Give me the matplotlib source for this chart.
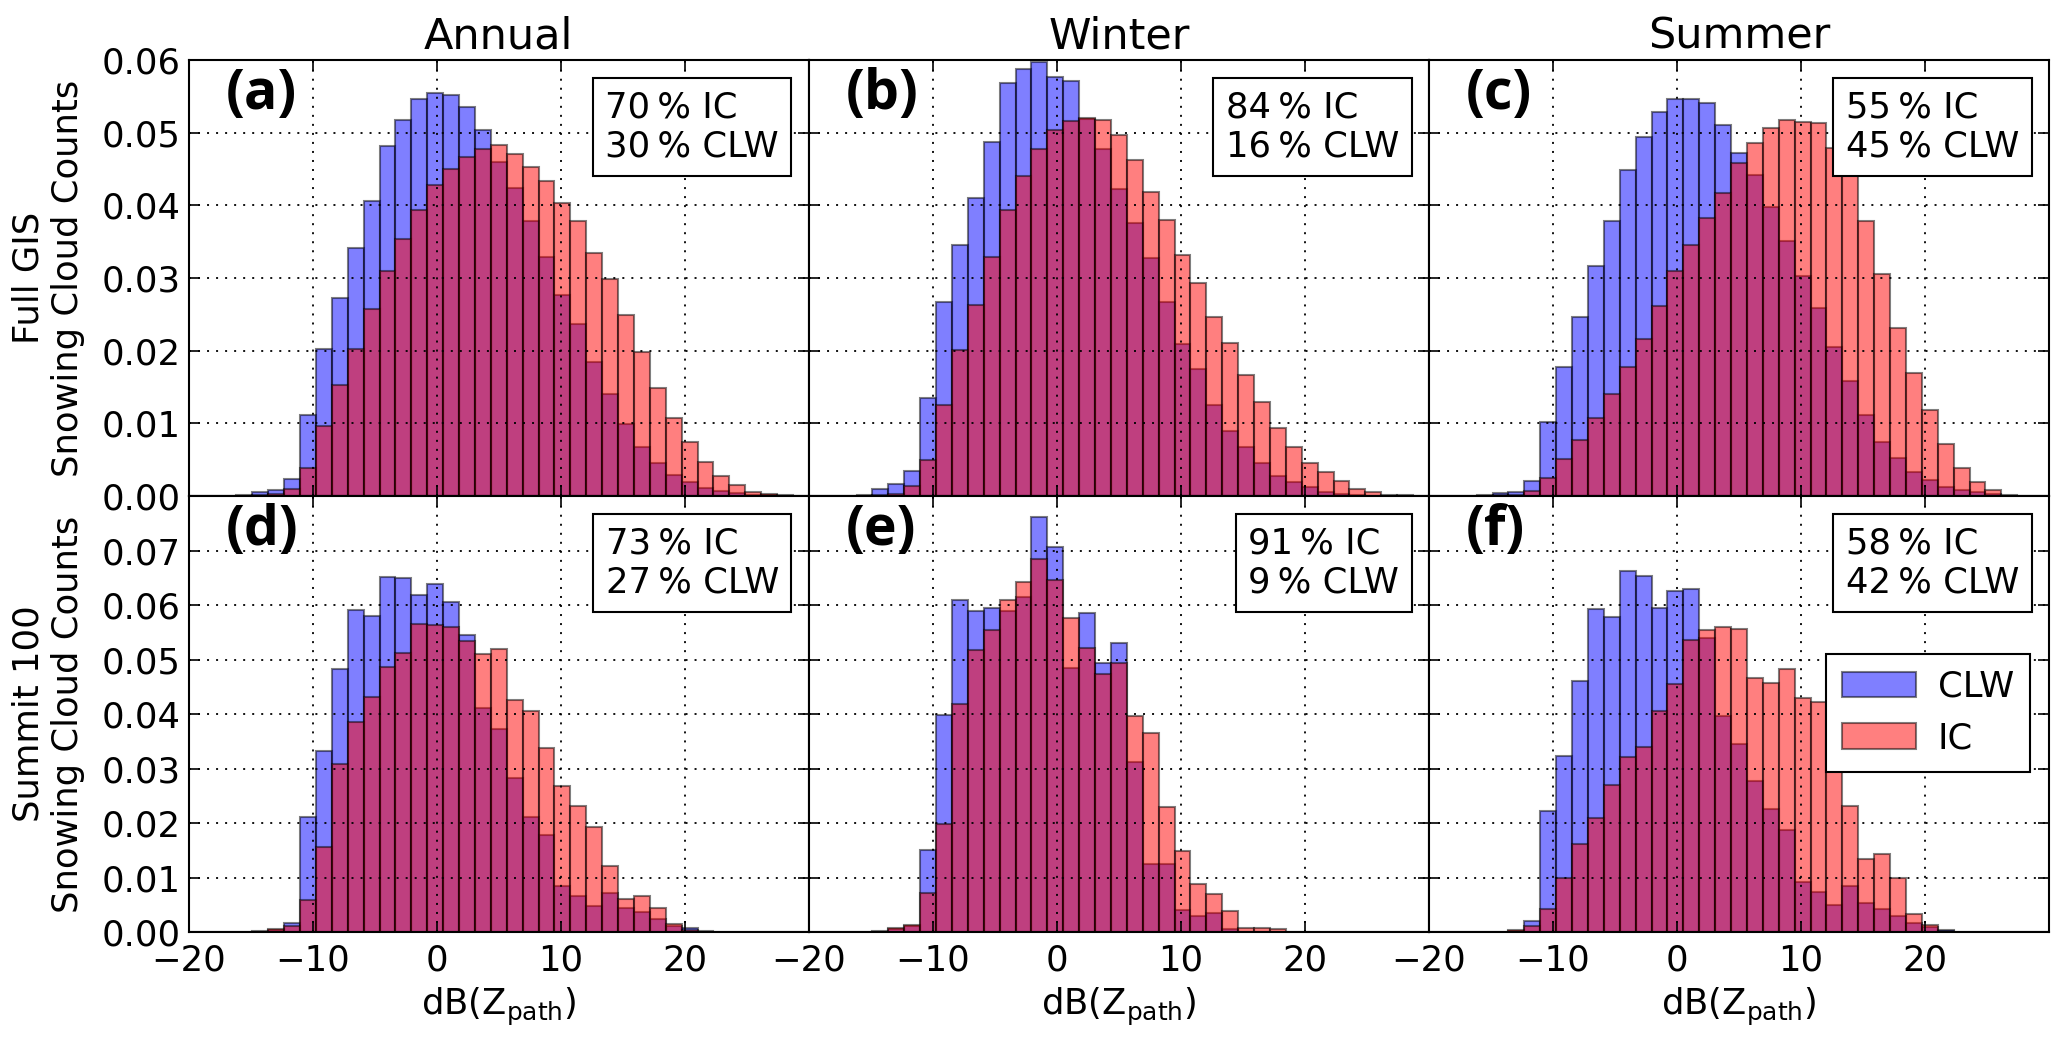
import numpy as np
import matplotlib.pyplot as plt

# histogram bins (dB), 39 bins from -20 to 30
bin_edges = np.linspace(-20, 30, 40)

# normalised counts, one value per bin
annual_gis_clw = [0, 0, 0, 0.0002, 0.0005, 0.0008, 0.0024, 0.0111, 0.0202, 0.0273,
                  0.0341, 0.0406, 0.0481, 0.0518, 0.0546, 0.0555, 0.0552, 0.0535, 0.0503, 0.0459,
                  0.0424, 0.0378, 0.0329, 0.0277, 0.0237, 0.0184, 0.0140, 0.0099, 0.0067, 0.0046,
                  0.0029, 0.0020, 0.0011, 0.0007, 0.0004, 0.0002, 0.0001, 0, 0]
annual_gis_ic = [0, 0, 0, 0, 0.0002, 0.0003, 0.0010, 0.0039, 0.0097, 0.0153,
                 0.0203, 0.0257, 0.0310, 0.0354, 0.0394, 0.0428, 0.0450, 0.0467, 0.0478, 0.0483,
                 0.0471, 0.0453, 0.0433, 0.0403, 0.0378, 0.0335, 0.0299, 0.0249, 0.0198, 0.0148,
                 0.0108, 0.0074, 0.0047, 0.0028, 0.0015, 0.0006, 0.0003, 0.0001, 0]
winter_gis_clw = [0, 0, 0, 0.0001, 0.0010, 0.0017, 0.0034, 0.0135, 0.0267, 0.0346,
                  0.0410, 0.0487, 0.0568, 0.0587, 0.0597, 0.0577, 0.0571, 0.0519, 0.0478, 0.0422,
                  0.0376, 0.0328, 0.0267, 0.0209, 0.0175, 0.0125, 0.0089, 0.0067, 0.0046, 0.0028,
                  0.0019, 0.0012, 0.0006, 0.0003, 0.0002, 0, 0, 0, 0]
winter_gis_ic = [0, 0, 0, 0, 0.0001, 0.0003, 0.0014, 0.0049, 0.0125, 0.0201,
                 0.0263, 0.0329, 0.0393, 0.0441, 0.0478, 0.0504, 0.0516, 0.0520, 0.0518, 0.0497,
                 0.0462, 0.0419, 0.0380, 0.0331, 0.0293, 0.0246, 0.0211, 0.0167, 0.0129, 0.0094,
                 0.0068, 0.0046, 0.0033, 0.0021, 0.0010, 0.0006, 0.0002, 0.0001, 0]
summer_gis_clw = [0, 0, 0, 0.0001, 0.0004, 0.0005, 0.0021, 0.0102, 0.0178, 0.0247,
                  0.0316, 0.0378, 0.0449, 0.0494, 0.0528, 0.0547, 0.0546, 0.0541, 0.0511, 0.0472,
                  0.0442, 0.0398, 0.0351, 0.0303, 0.0259, 0.0205, 0.0158, 0.0111, 0.0075, 0.0053,
                  0.0033, 0.0022, 0.0013, 0.0009, 0.0006, 0.0003, 0, 0, 0]
summer_gis_ic = [0, 0, 0, 0, 0.0001, 0.0002, 0.0007, 0.0025, 0.0051, 0.0077,
                 0.0107, 0.0141, 0.0178, 0.0216, 0.0261, 0.0309, 0.0346, 0.0382, 0.0417, 0.0458,
                 0.0486, 0.0507, 0.0517, 0.0514, 0.0513, 0.0479, 0.0445, 0.0378, 0.0305, 0.0231,
                 0.0170, 0.0119, 0.0071, 0.0039, 0.0020, 0.0008, 0.0002, 0, 0]
annual_sum_clw = [0, 0, 0, 0, 0.0002, 0.0004, 0.0017, 0.0211, 0.0333, 0.0483,
                  0.0591, 0.0580, 0.0652, 0.0650, 0.0619, 0.0638, 0.0606, 0.0545, 0.0411, 0.0373,
                  0.0283, 0.0211, 0.0178, 0.0084, 0.0067, 0.0048, 0.0072, 0.0045, 0.0037, 0.0024,
                  0.0012, 0.0007, 0.0003, 0, 0, 0, 0, 0, 0]
annual_sum_ic = [0, 0, 0, 0, 0, 0.0006, 0.0012, 0.0059, 0.0156, 0.0308,
                 0.0386, 0.0432, 0.0487, 0.0513, 0.0566, 0.0563, 0.0559, 0.0535, 0.0510, 0.0520,
                 0.0425, 0.0405, 0.0337, 0.0269, 0.0232, 0.0193, 0.0121, 0.0061, 0.0066, 0.0045,
                 0.0015, 0.0004, 0.0001, 0, 0, 0, 0, 0, 0]
winter_sum_clw = [0, 0, 0, 0, 0.0003, 0.0005, 0.0011, 0.0151, 0.0398, 0.0610,
                  0.0590, 0.0595, 0.0590, 0.0614, 0.0762, 0.0707, 0.0484, 0.0585, 0.0494, 0.0530,
                  0.0312, 0.0125, 0.0125, 0.0040, 0.0030, 0.0035, 0.0005, 0, 0, 0,
                  0, 0, 0, 0, 0, 0, 0, 0, 0]
winter_sum_ic = [0, 0, 0, 0, 0, 0.0008, 0.0014, 0.0072, 0.0199, 0.0418,
                 0.0518, 0.0554, 0.0610, 0.0643, 0.0685, 0.0646, 0.0577, 0.0521, 0.0473, 0.0494,
                 0.0396, 0.0365, 0.0229, 0.0148, 0.0089, 0.0070, 0.0038, 0.0007, 0.0008, 0.0005,
                 0, 0, 0, 0, 0, 0, 0, 0, 0]
summer_sum_clw = [0, 0, 0, 0, 0.0001, 0.0003, 0.0020, 0.0223, 0.0323, 0.0461,
                  0.0592, 0.0578, 0.0663, 0.0653, 0.0594, 0.0626, 0.0629, 0.0539, 0.0397, 0.0346,
                  0.0278, 0.0226, 0.0188, 0.0092, 0.0073, 0.0050, 0.0085, 0.0053, 0.0043, 0.0029,
                  0.0017, 0.0010, 0.0004, 0, 0, 0, 0, 0, 0]
summer_sum_ic = [0, 0, 0, 0, 0, 0.0004, 0.0012, 0.0043, 0.0099, 0.0162,
                 0.0210, 0.0270, 0.0322, 0.0340, 0.0406, 0.0455, 0.0536, 0.0554, 0.0560, 0.0557,
                 0.0466, 0.0457, 0.0482, 0.0430, 0.0422, 0.0350, 0.0232, 0.0135, 0.0144, 0.0099,
                 0.0034, 0.0014, 0.0002, 0, 0, 0, 0, 0, 0]

seasons = ['Annual', 'Winter', 'Summer']
row_labels = ['Full GIS\nSnowing Cloud Counts', 'Summit 100\nSnowing Cloud Counts']
panel_letters = ['(a)', '(b)', '(c)', '(d)', '(e)', '(f)']
ic_percent = [70, 84, 55, 73, 91, 58]
clw_percent = [30, 16, 45, 27, 9, 42]
row_ymax = [0.06, 0.08]
row_yticks = [[0.00, 0.01, 0.02, 0.03, 0.04, 0.05, 0.06],
              [0.00, 0.01, 0.02, 0.03, 0.04, 0.05, 0.06, 0.07]]
xticks = [-20, -10, 0, 10, 20]

clw_data = [annual_gis_clw, winter_gis_clw, summer_gis_clw,
            annual_sum_clw, winter_sum_clw, summer_sum_clw]
ic_data = [annual_gis_ic, winter_gis_ic, summer_gis_ic,
           annual_sum_ic, winter_sum_ic, summer_sum_ic]

FS = 25.5
centers = 0.5 * (bin_edges[:-1] + bin_edges[1:])

fig, axes = plt.subplots(2, 3, figsize=(20.67, 10.45), dpi=100)
fig.subplots_adjust(left=0.0913, right=0.9913, bottom=0.108, top=0.9426,
                    wspace=0, hspace=0)

for i, ax in enumerate(axes.flat):
    row, col = divmod(i, 3)
    ax.hist(centers, bins=bin_edges, weights=clw_data[i], color='b', alpha=0.5,
            edgecolor='k', linewidth=1.5, label='CLW')
    ax.hist(centers, bins=bin_edges, weights=ic_data[i], color='r', alpha=0.5,
            edgecolor='k', linewidth=1.5, label='IC')
    ax.set_xlim(-20, 30)
    ax.set_ylim(0, row_ymax[row])
    ax.set_xticks(xticks)
    ax.set_yticks(row_yticks[row])
    ax.grid(True, color='k', linestyle=(0, (1.1, 3.9)), linewidth=1.3)
    ax.set_axisbelow(False)
    ax.tick_params(direction='in', top=True, right=True, length=8, width=1.2,
                   labelsize=FS)
    ax.tick_params(axis='y', pad=6)
    ax.tick_params(axis='x', pad=8)
    for sp in ax.spines.values():
        sp.set_linewidth(1.5)

    if col == 0:
        ax.set_yticklabels(['%.2f' % v for v in row_yticks[row]])
        ax.set_ylabel(row_labels[row], fontsize=FS, labelpad=12)
    else:
        ax.set_yticklabels([])
    if row == 1:
        ax.set_xticklabels(['\u221220', '\u221210', '0', '10', '20'])
        ax.set_xlabel(r'dB(Z$_{\mathrm{path}}$)', fontsize=FS, labelpad=6)
    else:
        ax.set_xticklabels([])
        ax.set_title(seasons[col], fontsize=31, pad=8)

    ax.text(0.06, 0.985, panel_letters[i], transform=ax.transAxes,
            fontsize=40, fontweight='bold', family='Open Sans', ha='left', va='top')
    ax.text(0.952, 0.931, '%d\u2009%% IC\n%d\u2009%% CLW' % (ic_percent[i], clw_percent[i]),
            transform=ax.transAxes, fontsize=FS, ha='right', va='top',
            multialignment='left', linespacing=1.2,
            bbox=dict(boxstyle='square,pad=0.35', fc='w', ec='k', lw=1.5))

leg = axes[1, 2].legend(loc='upper right', bbox_to_anchor=(0.969, 0.638),
                        borderaxespad=0, fontsize=FS, fancybox=False,
                        edgecolor='k', framealpha=1, handlelength=2.1,
                        handleheight=0.75, borderpad=0.45, labelspacing=0.5,
                        handletextpad=0.6)
leg.get_frame().set_linewidth(1.5)

fig.savefig('out.png', dpi=100)
